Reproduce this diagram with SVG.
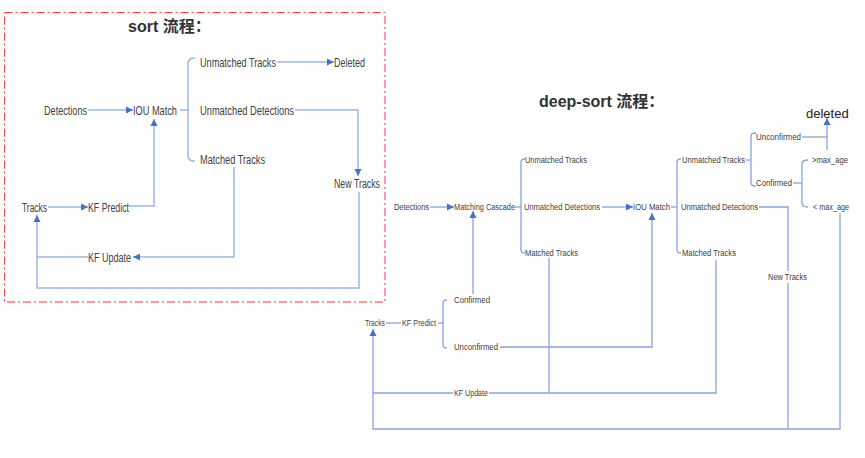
<svg xmlns="http://www.w3.org/2000/svg" width="865" height="458" viewBox="0 0 865 458">
<defs>
<marker id="arr" viewBox="0 0 10 10" refX="10" refY="5" markerWidth="7" markerHeight="8" markerUnits="userSpaceOnUse" orient="auto">
<path d="M0,0 L10,5 L0,10 z" fill="#4472c4"/>
</marker>
<style>
.s{font-family:"Liberation Sans","Noto Sans",sans-serif;font-size:12.5px;fill:#404040}
.d{font-family:"Liberation Sans","Noto Sans",sans-serif;font-size:8.5px;fill:#404040}
.t{font-family:"Liberation Sans","Noto Sans CJK SC",sans-serif;font-size:16px;font-weight:bold;fill:#333}
.ls{fill:none;stroke:#9db5e3;stroke-width:1.5}
.ld{fill:none;stroke:#86a3dd;stroke-width:1.3}
</style>
</defs>
<rect width="865" height="458" fill="#fff"/>
<rect x="4.5" y="12.5" width="380.5" height="289.5" fill="none" stroke="#f03a3a" stroke-width="1" stroke-dasharray="8,3,2,3"/>
<text class="t" x="128" y="32">sort 流程：</text>
<text class="t" x="539" y="107">deep-sort 流程：</text>

<g id="connectors">
<path class="ls" d="M88,110 H133" marker-end="url(#arr)"/>
<path class="ls" d="M277,62 H334" marker-end="url(#arr)"/>
<path class="ls" d="M295,110 H358 V176" marker-end="url(#arr)"/>
<path class="ls" d="M234,167 V257 H133" marker-end="url(#arr)"/>
<path class="ls" d="M88,257 H37"/>
<path class="ls" d="M48,207 H88" marker-end="url(#arr)"/>
<path class="ls" d="M129,206 H154 V119" marker-end="url(#arr)"/>
<path class="ls" d="M359,192 V288 H37 V215" marker-end="url(#arr)"/>
<path class="ls" d="M180,110 H188"/>
<path class="ls" d="M195,58 Q188,58 188,63 V156 Q188,161 195,161"/>

<path class="ld" d="M430,207 H454" marker-end="url(#arr)"/>
<path class="ld" d="M515,207 H521"/>
<path class="ld" d="M525,159 Q521,159 521,162 V250 Q521,253 525,253"/>
<path class="ld" d="M602,207 H633" marker-end="url(#arr)"/>
<path class="ld" d="M671,207 H677"/>
<path class="ld" d="M681,159 Q677,159 677,162 V250 Q677,253 681,253"/>
<path class="ld" d="M746,160 H751"/>
<path class="ld" d="M756,133 Q751,133 751,136 V183 Q751,186 756,186"/>
<path class="ld" d="M802,137 H827"/>
<path class="ld" d="M827,150 V118" marker-end="url(#arr)"/>
<path class="ld" d="M793,183 H802"/>
<path class="ld" d="M808,160 Q802,160 802,164 V203 Q802,207 808,207"/>
<path class="ld" d="M759,207 H788 V271"/>
<path class="ld" d="M788,283 V429"/>
<path class="ld" d="M840,213 V429 H373 V329" marker-end="url(#arr)"/>
<path class="ld" d="M549,258 V393"/>
<path class="ld" d="M373,393 H453"/>
<path class="ld" d="M489,393 H716 V260"/>
<path class="ld" d="M500,347 H652 V213" marker-end="url(#arr)"/>
<path class="ld" d="M473,294 V211" marker-end="url(#arr)"/>
<path class="ld" d="M386,323 H401"/>
<path class="ld" d="M438,323 H443"/>
<path class="ld" d="M447,300 Q443,300 443,303 V345 Q443,348 447,348"/>
</g>

<g id="sort-detections"><text class="s" x="44" y="114.5" textLength="43" lengthAdjust="spacingAndGlyphs">Detections</text></g>
<g id="sort-iou-match"><text class="s" x="133" y="114.5" textLength="44" lengthAdjust="spacingAndGlyphs">IOU Match</text></g>
<g id="sort-unmatched-tracks"><text class="s" x="200" y="66.5" textLength="76" lengthAdjust="spacingAndGlyphs">Unmatched Tracks</text></g>
<g id="sort-deleted"><text class="s" x="334" y="66.5" textLength="31" lengthAdjust="spacingAndGlyphs">Deleted</text></g>
<g id="sort-unmatched-detections"><text class="s" x="200" y="114.5" textLength="94" lengthAdjust="spacingAndGlyphs">Unmatched Detections</text></g>
<g id="sort-matched-tracks"><text class="s" x="200" y="163.5" textLength="65" lengthAdjust="spacingAndGlyphs">Matched Tracks</text></g>
<g id="sort-new-tracks"><text class="s" x="334" y="187.5" textLength="46" lengthAdjust="spacingAndGlyphs">New Tracks</text></g>
<g id="sort-tracks"><text class="s" x="22" y="211.5" textLength="25" lengthAdjust="spacingAndGlyphs">Tracks</text></g>
<g id="sort-kf-predict"><text class="s" x="88" y="211.5" textLength="41" lengthAdjust="spacingAndGlyphs">KF Predict</text></g>
<g id="sort-kf-update"><text class="s" x="88" y="261.5" textLength="43" lengthAdjust="spacingAndGlyphs">KF Update</text></g>

<g id="ds-detections"><text class="d" x="394" y="210" textLength="35" lengthAdjust="spacingAndGlyphs">Detections</text></g>
<g id="ds-matching-cascade"><text class="d" x="454" y="210" textLength="61" lengthAdjust="spacingAndGlyphs">Matching Cascade</text></g>
<g id="ds-unmatched-tracks-1"><text class="d" x="525" y="163" textLength="62" lengthAdjust="spacingAndGlyphs">Unmatched Tracks</text></g>
<g id="ds-unmatched-detections-1"><text class="d" x="524" y="210" textLength="76" lengthAdjust="spacingAndGlyphs">Unmatched Detections</text></g>
<g id="ds-matched-tracks-1"><text class="d" x="525" y="256" textLength="53" lengthAdjust="spacingAndGlyphs">Matched Tracks</text></g>
<g id="ds-iou-match"><text class="d" x="633" y="210" textLength="37" lengthAdjust="spacingAndGlyphs">IOU Match</text></g>
<g id="ds-unmatched-tracks-2"><text class="d" x="682" y="163" textLength="63" lengthAdjust="spacingAndGlyphs">Unmatched Tracks</text></g>
<g id="ds-unmatched-detections-2"><text class="d" x="681" y="210" textLength="77" lengthAdjust="spacingAndGlyphs">Unmatched Detections</text></g>
<g id="ds-matched-tracks-2"><text class="d" x="682" y="256" textLength="54" lengthAdjust="spacingAndGlyphs">Matched Tracks</text></g>
<g id="ds-unconfirmed-1"><text class="d" x="756" y="140" textLength="45" lengthAdjust="spacingAndGlyphs">Unconfirmed</text></g>
<g id="ds-confirmed-1"><text class="d" x="756" y="186" textLength="36" lengthAdjust="spacingAndGlyphs">Confirmed</text></g>
<g id="ds-gt-max-age"><text class="d" x="812" y="163" textLength="36" lengthAdjust="spacingAndGlyphs">&gt;max_age</text></g>
<g id="ds-lt-max-age"><text class="d" x="813" y="210" textLength="36" lengthAdjust="spacingAndGlyphs">&lt; max_age</text></g>
<g id="ds-deleted"><text x="806" y="118" font-family="Liberation Sans, sans-serif" font-size="13" fill="#222">deleted</text></g>
<g id="ds-new-tracks"><text class="d" x="768" y="280" textLength="39" lengthAdjust="spacingAndGlyphs">New Tracks</text></g>
<g id="ds-tracks"><text class="d" x="365" y="326" textLength="20" lengthAdjust="spacingAndGlyphs">Tracks</text></g>
<g id="ds-kf-predict"><text class="d" x="402" y="326" textLength="34" lengthAdjust="spacingAndGlyphs">KF Predict</text></g>
<g id="ds-confirmed-2"><text class="d" x="454" y="303" textLength="36" lengthAdjust="spacingAndGlyphs">Confirmed</text></g>
<g id="ds-unconfirmed-2"><text class="d" x="454" y="350" textLength="44" lengthAdjust="spacingAndGlyphs">Unconfirmed</text></g>
<g id="ds-kf-update"><text class="d" x="454" y="396" textLength="34" lengthAdjust="spacingAndGlyphs">KF Update</text></g>
</svg>
